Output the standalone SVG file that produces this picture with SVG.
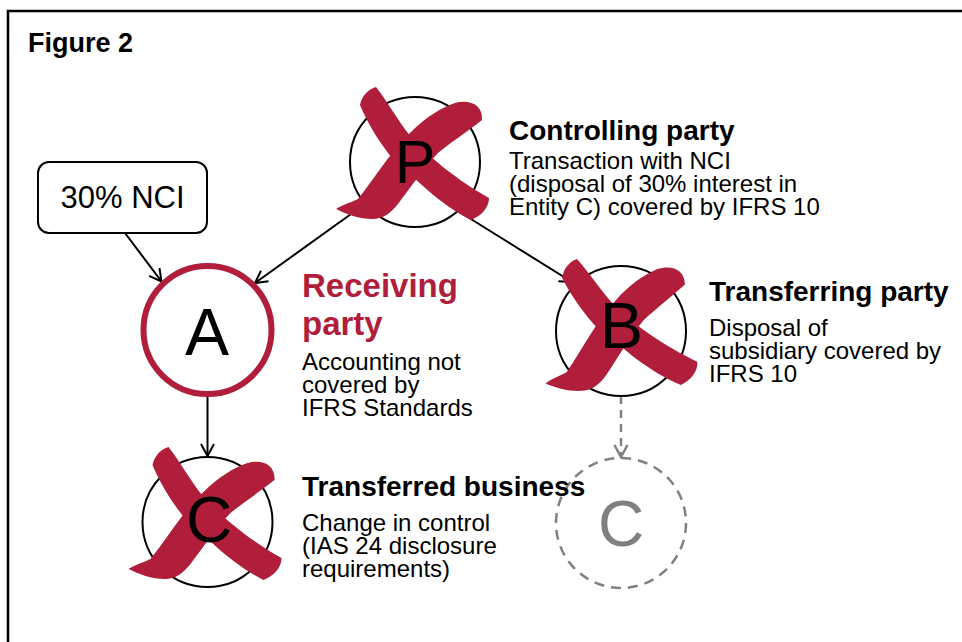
<svg xmlns="http://www.w3.org/2000/svg" xmlns:xlink="http://www.w3.org/1999/xlink" width="962" height="642" viewBox="0 0 962 642">
<style>
.frame{fill:none;stroke:#000;stroke-width:2.5}
.node{fill:#fff;stroke:#000;stroke-width:2}
.ghost{fill:none;stroke:#808080;stroke-width:2.5;stroke-dasharray:10 7}
.ring{fill:#fff;stroke:#B01E3C;stroke-width:6}
.cross{fill:#B01E3C}
.letter{font-family:"Liberation Sans",Arial,sans-serif;text-anchor:middle;fill:#000}
.head{font-family:"Liberation Sans",Arial,sans-serif;font-weight:bold;font-size:28px;fill:#000}
.body{font-family:"Liberation Sans",Arial,sans-serif;font-size:24px;fill:#000}
.conn{fill:none;stroke:#000;stroke-width:2}
.dconn{fill:none;stroke:#808080;stroke-width:2.5;stroke-dasharray:8 6}
</style>
<defs>
<marker id="arr" viewBox="-14 -8 16 16" refX="0" refY="0" markerWidth="16" markerHeight="16" markerUnits="userSpaceOnUse" orient="auto">
<path d="M-12,-6.5 L0,0 L-12,6.5" fill="none" stroke="#000" stroke-width="2"/>
</marker>
<marker id="garr" viewBox="-14 -8 16 16" refX="0" refY="0" markerWidth="16" markerHeight="16" markerUnits="userSpaceOnUse" orient="auto">
<path d="M-12,-6.5 L0,0 L-12,6.5" fill="none" stroke="#808080" stroke-width="2.5"/>
</marker>
<g id="xmark" class="cross">
<path d="M -39,-75 C -29,-63 -18,-42 -3,-24 C 14,-5 42,18 74,36 C 74,46 66,54 56,58 C 38,49 20,35 8,24 C -5,12 -15,5 -23,-4 C -36,-20 -48,-40 -55,-57 C -53,-67 -46,-73 -39,-75 Z"/>
<path d="M 40,-59 C 55,-63 68,-57 67,-42 C 52,-30 35,-19 23,-9 C 9,6 -5,26 -17,42 C -25,52 -33,57 -42,57 C -56,57 -69,52 -79,47 C -71,42 -63,40 -57,37 C -40,16 -23,-13 -3,-31 C 11,-45 26,-54 40,-59 Z"/>
</g>
</defs>
<rect x="0" y="0" width="962" height="642" fill="#fff"/>
<rect class="frame" x="8" y="11" width="970" height="660"/>
<text x="28" y="52" style="font-family:'Liberation Sans',Arial,sans-serif;font-weight:bold;font-size:27px">Figure 2</text>

<g id="connectors">
<line class="conn" x1="125" y1="233" x2="161.5" y2="281.5" marker-end="url(#arr)"/>
<line class="conn" x1="365" y1="204" x2="255" y2="283" marker-end="url(#arr)"/>
<line class="conn" x1="458" y1="211" x2="572" y2="282" marker-end="url(#arr)"/>
<line class="conn" x1="207.5" y1="397" x2="207.5" y2="456" marker-end="url(#arr)"/>
<line class="dconn" x1="621" y1="396" x2="621" y2="457" marker-end="url(#garr)"/>
</g>

<g id="node-nci">
<rect class="node" x="38" y="162" width="169" height="71" rx="11"/>
<text x="122.5" y="208" style="font-family:'Liberation Sans',Arial,sans-serif;font-size:31px;text-anchor:middle">30% NCI</text>
</g>

<g id="node-p">
<circle class="node" cx="415" cy="162" r="65"/>
<use xlink:href="#xmark" href="#xmark" transform="translate(415,162)"/>
<text class="letter" x="415" y="183" font-size="61">P</text>
</g>

<g id="node-a">
<circle class="ring" cx="207.5" cy="330" r="64"/>
<text class="letter" x="207" y="355" font-size="66">A</text>
</g>

<g id="node-b">
<circle class="node" cx="621" cy="331" r="65"/>
<use xlink:href="#xmark" href="#xmark" transform="translate(621,331) rotate(-4)"/>
<text class="letter" x="621.5" y="348" font-size="65">B</text>
</g>

<g id="node-c">
<circle class="node" cx="207.5" cy="522" r="65"/>
<use xlink:href="#xmark" href="#xmark" transform="translate(207.5,522)"/>
<text class="letter" x="209" y="542" font-size="64">C</text>
</g>

<g id="node-c-ghost">
<circle class="ghost" cx="621" cy="523" r="65"/>
<text class="letter" x="621" y="546" font-size="64" style="fill:#808080">C</text>
</g>

<g id="label-controlling">
<text class="head" x="509" y="140">Controlling party</text>
<text class="body" x="509" y="169">Transaction with NCI</text>
<text class="body" x="509" y="192">(disposal of 30% interest in</text>
<text class="body" x="509" y="215">Entity C) covered by IFRS 10</text>
</g>

<g id="label-receiving">
<text x="302" y="297" style="font-family:'Liberation Sans',Arial,sans-serif;font-weight:bold;font-size:33px;fill:#B01E3C">Receiving</text>
<text x="302" y="335" style="font-family:'Liberation Sans',Arial,sans-serif;font-weight:bold;font-size:33px;fill:#B01E3C">party</text>
<text class="body" x="302" y="370">Accounting not</text>
<text class="body" x="302" y="393">covered by</text>
<text class="body" x="302" y="416">IFRS Standards</text>
</g>

<g id="label-transferring">
<text class="head" x="709" y="301">Transferring party</text>
<text class="body" x="709" y="336">Disposal of</text>
<text class="body" x="709" y="359">subsidiary covered by</text>
<text class="body" x="709" y="382">IFRS 10</text>
</g>

<g id="label-transferred">
<text class="head" x="302" y="496">Transferred business</text>
<text class="body" x="302" y="531">Change in control</text>
<text class="body" x="302" y="554">(IAS 24 disclosure</text>
<text class="body" x="302" y="577">requirements)</text>
</g>
</svg>
